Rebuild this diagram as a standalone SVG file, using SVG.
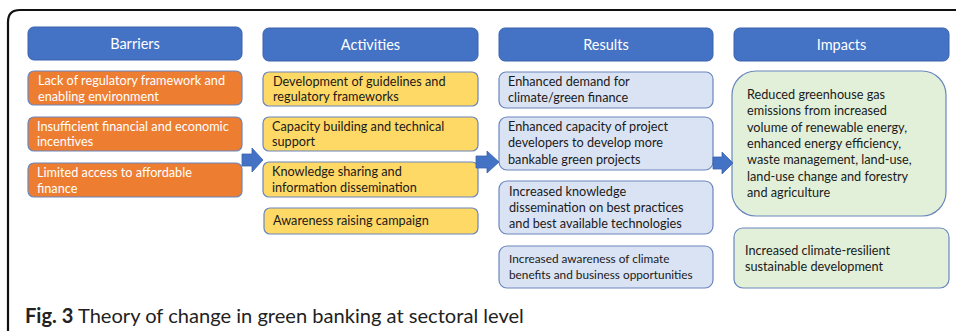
<svg xmlns="http://www.w3.org/2000/svg" width="956" height="331" viewBox="0 0 956 331">
<style>
.hdr{fill:#4472C4;stroke:#3A63AD;stroke-width:1}
.ht{font-family:Lato,"Liberation Sans",sans-serif;font-size:14.5px;fill:#fff;text-anchor:middle}
.bar{fill:#ED7D31;stroke:#6A86BE;stroke-width:1.2}
.act{fill:#FFD966;stroke:#6A86BE;stroke-width:1.2}
.res{fill:#DAE3F3;stroke:#6A86BE;stroke-width:1.2}
.imp{fill:#E2F0D9;stroke:#6A86BE;stroke-width:1.2}
.t{font-family:Lato,"Liberation Sans",sans-serif;font-size:12.7px;fill:#1a1a1a}
.ts{font-family:Lato,"Liberation Sans",sans-serif;font-size:11.8px;fill:#1a1a1a}
.tw{font-family:Lato,"Liberation Sans",sans-serif;font-size:12.7px;fill:#fff}
.arr{fill:#4472C4;stroke:#3A63AD;stroke-width:0.8}
.cap{font-family:Lato,"Liberation Sans",sans-serif;font-size:20.1px;fill:#222}
</style>
<rect width="956" height="331" fill="#fff"/>
<path d="M8 331 L8 22 Q8 10 20 10 L956 10" fill="none" stroke="#111" stroke-width="2.2"/>

<g id="barriers-header"><rect class="hdr" x="28" y="27" width="214" height="33" rx="6"/><text class="ht" x="135" y="49">Barriers</text></g>
<g id="activities-header"><rect class="hdr" x="263" y="28" width="215" height="33" rx="6"/><text class="ht" x="370.5" y="50">Activities</text></g>
<g id="results-header"><rect class="hdr" x="499" y="28" width="214" height="33" rx="6"/><text class="ht" x="606" y="50">Results</text></g>
<g id="impacts-header"><rect class="hdr" x="734" y="28" width="215" height="33" rx="6"/><text class="ht" x="841.5" y="50">Impacts</text></g>

<g id="barrier-1"><rect class="bar" x="28" y="71" width="214" height="34" rx="6"/><text class="tw" x="38" y="85">Lack of regulatory framework and</text><text class="tw" x="38" y="100.5">enabling environment</text></g>
<g id="barrier-2"><rect class="bar" x="28" y="117" width="214" height="34" rx="6"/><text class="tw" x="37" y="130.5">Insufficient financial and economic</text><text class="tw" x="37" y="146">incentives</text></g>
<g id="barrier-3"><rect class="bar" x="28" y="163" width="214" height="34" rx="6"/><text class="tw" x="37" y="177">Limited access to affordable</text><text class="tw" x="37" y="192.5">finance</text></g>

<g id="activity-1"><rect class="act" x="263" y="72" width="215" height="34" rx="6"/><text class="t" x="273" y="85.5">Development of guidelines and</text><text class="t" x="273" y="101">regulatory frameworks</text></g>
<g id="activity-2"><rect class="act" x="263" y="117" width="215" height="34" rx="6"/><text class="t" x="272" y="130.5">Capacity building and technical</text><text class="t" x="272" y="146">support</text></g>
<g id="activity-3"><rect class="act" x="263" y="162" width="215" height="35" rx="6"/><text class="t" x="272" y="176">Knowledge sharing and</text><text class="t" x="272" y="191.5">information dissemination</text></g>
<g id="activity-4"><rect class="act" x="264" y="208" width="214" height="26" rx="6"/><text class="t" x="273" y="225">Awareness raising campaign</text></g>

<g id="result-1"><rect class="res" x="499" y="72" width="214" height="36" rx="7"/><text class="t" x="508" y="86">Enhanced demand for</text><text class="t" x="508" y="102">climate/green finance</text></g>
<g id="result-2"><rect class="res" x="499" y="117" width="214" height="53" rx="8"/><text class="t" x="508" y="131">Enhanced capacity of project</text><text class="t" x="508" y="147">developers to develop more</text><text class="t" x="508" y="163.5">bankable green projects</text></g>
<g id="result-3"><rect class="res" x="499" y="181" width="214" height="53" rx="8"/><text class="t" x="509" y="195.5">Increased knowledge</text><text class="t" x="509" y="211.5">dissemination on best practices</text><text class="t" x="509" y="227.5">and best available technologies</text></g>
<g id="result-4"><rect class="res" x="499" y="246" width="214" height="42" rx="8"/><text class="ts" x="509" y="263">Increased awareness of climate</text><text class="ts" x="509" y="278.5">benefits and business opportunities</text></g>

<g id="impact-1"><rect class="imp" x="732" y="71" width="214" height="145" rx="24"/><text class="t" x="747" y="99">Reduced greenhouse gas</text><text class="t" x="747" y="115">emissions from increased</text><text class="t" x="747" y="131.5">volume of renewable energy,</text><text class="t" x="747" y="148">enhanced energy efficiency,</text><text class="t" x="747" y="164">waste management, land-use,</text><text class="t" x="747" y="180.5">land-use change and forestry</text><text class="t" x="747" y="196.5">and agriculture</text></g>
<g id="impact-2"><rect class="imp" x="734" y="228" width="215" height="60" rx="9"/><text class="t" x="745" y="254.5">Increased climate-resilient</text><text class="t" x="745" y="271">sustainable development</text></g>

<g id="connectors">
<polygon class="arr" points="242,154 252,154 252,148 263,160 252,172 252,166 242,166"/>
<polygon class="arr" points="476,156 487,156 487,151 499,162 487,173 487,168 476,168"/>
<polygon class="arr" points="713,157 722,157 722,152 733,163 722,174 722,169 713,169"/>
</g>

<text class="cap" x="25" y="323"><tspan font-weight="bold">Fig. 3</tspan> Theory of change in green banking at sectoral level</text>
</svg>
